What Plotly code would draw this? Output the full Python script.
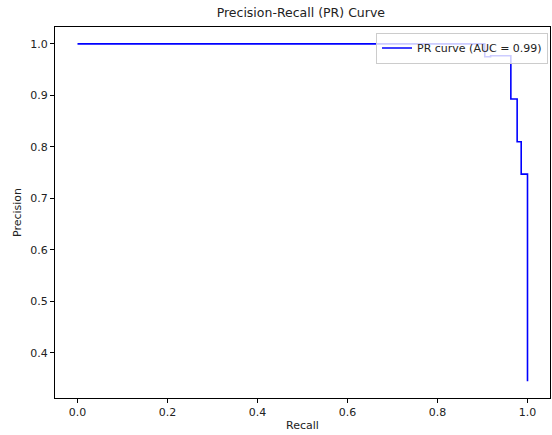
import plotly.graph_objects as go

# Step points of the precision-recall curve (recall ascending)
recall = [0.0, 0.905, 0.918, 0.963, 0.977, 0.986, 1.0]
precision = [1.0, 0.975, 0.977, 0.893, 0.810, 0.747, 0.345]
auc_value = 0.99

x_ticks = [0.0, 0.2, 0.4, 0.6, 0.8, 1.0]
y_ticks = [0.4, 0.5, 0.6, 0.7, 0.8, 0.9, 1.0]

text_color = "#222222"
font_family = "DejaVu Sans"

fig = go.Figure()
fig.add_trace(go.Scatter(
    x=recall, y=precision,
    mode="lines",
    line=dict(color="#0000ff", width=1.6, shape="hv"),
    name=f"PR curve (AUC = {auc_value:.2f})",
))

# 5% padding around the data, like the default autoscale margins
y_lo, y_hi = min(precision), max(precision)
pad = 0.05 * (y_hi - y_lo)

axis_common = dict(
    showgrid=False, zeroline=False,
    showline=True, linecolor="#000000", linewidth=1, mirror=True,
    ticks="outside", ticklen=4, tickwidth=1, tickcolor="#000000",
    tickfont=dict(size=11, color=text_color, family=font_family),
)

fig.update_xaxes(
    range=[-0.05, 1.05], tickvals=x_ticks,
    ticktext=[f"{v:.1f}" for v in x_ticks],
    title=dict(text="Recall", font=dict(size=11, color=text_color, family=font_family), standoff=3),
    **axis_common,
)
fig.update_yaxes(
    range=[y_lo - pad, y_hi + pad], tickvals=y_ticks,
    ticktext=[f"{v:.1f}" for v in y_ticks],
    title=dict(text="Precision", font=dict(size=11, color=text_color, family=font_family), standoff=6),
    **axis_common,
)

fig.update_layout(
    width=552, height=435,
    margin=dict(l=55, r=2, t=27, b=37),
    paper_bgcolor="white", plot_bgcolor="white",
    font=dict(family=font_family, color=text_color),
    title=dict(text="Precision-Recall (PR) Curve", x=0.545, xanchor="center",
               y=0.972, yanchor="middle",
               font=dict(size=12.5, color=text_color, family=font_family)),
    showlegend=True,
    legend=dict(
        x=0.996, y=0.985, xanchor="right", yanchor="top",
        bgcolor="rgba(255,255,255,0.8)", bordercolor="#cccccc", borderwidth=1,
        font=dict(size=11, color=text_color, family=font_family),
        itemwidth=30,
    ),
)

fig.write_html("out.html")
